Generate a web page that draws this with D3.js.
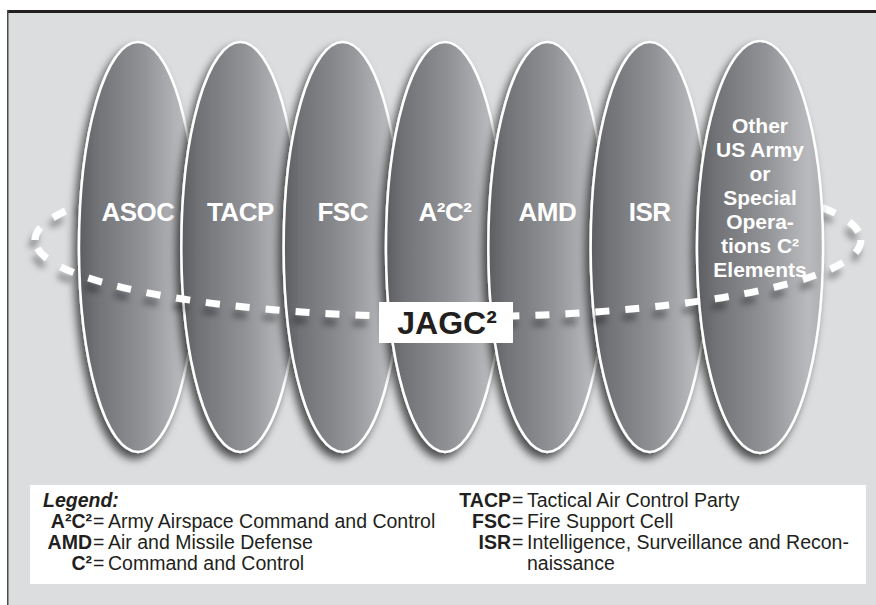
<!DOCTYPE html>
<html>
<head>
<meta charset="utf-8">
<script src="https://cdn.jsdelivr.net/npm/d3@7"></script>
<style>
  body { margin: 0; background: #fff; }
  svg { display: block; font-family: "Liberation Sans", Arial, Helvetica, sans-serif; }
</style>
</head>
<body>
<svg width="876" height="605"></svg>
<script>
// the seven C2 elements, label lines for each
const elementLabels = [
    ["ASOC"],
    ["TACP"],
    ["FSC"],
    ["A²C²"],
    ["AMD"],
    ["ISR"],
    ["Other", "US Army", "or", "Special", "Opera-", "tions C²", "Elements"]
];
const centerLabel = "JAGC²";

// legend rows: [term, definition lines...]
const legendTitle = "Legend:";
const legendLeft = [
    ["A²C²", "Army Airspace Command and Control"],
    ["AMD", "Air and Missile Defense"],
    ["C²", "Command and Control"]
];
const legendRight = [
    ["TACP", "Tactical Air Control Party"],
    ["FSC", "Fire Support Cell"],
    ["ISR", "Intelligence, Surveillance and Recon-", "naissance"]
];

const svg = d3.select("svg");
const defs = svg.append("defs");

const grad = defs.append("linearGradient")
    .attr("id", "ovalGrad")
    .attr("x1", "0%").attr("x2", "100%").attr("y1", "0%").attr("y2", "0%");
[[0, "#5c5d61"], [0.15, "#717276"], [0.55, "#929397"], [0.88, "#b9babd"], [1, "#aeafb2"]]
    .forEach(s => grad.append("stop").attr("offset", s[0]).attr("stop-color", s[1]));

defs.append("filter").attr("id", "ovalShadow")
    .attr("x", "-30%").attr("y", "-10%").attr("width", "160%").attr("height", "125%")
    .append("feDropShadow")
    .attr("dx", -4).attr("dy", 6).attr("stdDeviation", 4)
    .attr("flood-color", "#000").attr("flood-opacity", 0.65);

defs.append("filter").attr("id", "dashShadow")
    .attr("x", "-10%").attr("y", "-30%").attr("width", "120%").attr("height", "160%")
    .append("feDropShadow")
    .attr("dx", -3).attr("dy", 8).attr("stdDeviation", 3)
    .attr("flood-color", "#000").attr("flood-opacity", 0.35);

// frame
svg.append("rect").attr("x", 8).attr("y", 13).attr("width", 868).attr("height", 592).attr("fill", "#dcdddf");
svg.append("rect").attr("x", 7).attr("y", 10).attr("width", 869).attr("height", 3).attr("fill", "#231f20");
svg.append("rect").attr("x", 7).attr("y", 10).attr("width", 1.5).attr("height", 595).attr("fill", "#4a4a4a");

// positions
const x = d3.scalePoint().domain(d3.range(elementLabels.length)).range([138, 752]);
const y = d3.scaleLinear().domain([0, 1]).range([42, 452]);   // oval top..bottom
const cy = (y(0) + y(1)) / 2, ry = (y(1) - y(0)) / 2;

// dashed ring
const ring = { cx: 448, cy: 240, rx: 413, ry: 77 };
const backArc = `M${ring.cx - ring.rx},${ring.cy} A${ring.rx},${ring.ry} 0 0 1 ${ring.cx + ring.rx},${ring.cy}`;
const frontArc = `M${ring.cx + ring.rx},${ring.cy} A${ring.rx},${ring.ry} 0 0 1 ${ring.cx - ring.rx},${ring.cy}`;

function dashed(path) {
    svg.append("path").attr("d", path)
        .attr("fill", "none").attr("stroke", "#fff")
        .attr("stroke-width", 7).attr("stroke-dasharray", "14,16")
        .attr("filter", "url(#dashShadow)");
}

dashed(backArc);

// ovals
const ovals = svg.append("g").selectAll("g")
    .data(elementLabels)
    .join("g")
    .attr("transform", (d, i) => `translate(${x(i) + (d.length > 1 ? 8 : 0)},${cy})`);

ovals.append("ellipse")
    .attr("rx", d => d.length > 1 ? 63 : 59)
    .attr("ry", d => d.length > 1 ? ry + 1 : ry)
    .attr("fill", "url(#ovalGrad)")
    .attr("stroke", "#fff")
    .attr("stroke-width", 2.5)
    .attr("filter", "url(#ovalShadow)");

ovals.each(function(d) {
    const g = d3.select(this);
    const multi = d.length > 1;
    const fs = multi ? 21 : 26;
    const lineH = 24;
    const base = multi ? 133 - cy : 220.5 - cy;
    const t = g.append("text")
        .attr("text-anchor", "middle")
        .attr("fill", "#fff")
        .attr("font-weight", "bold")
        .attr("font-size", fs)
        .attr("letter-spacing", multi ? 0 : -0.5);
    d.forEach((line, k) => {
        t.append("tspan").attr("x", 0).attr("y", base + k * lineH).text(line);
    });
});

dashed(frontArc);

// center label
svg.append("rect").attr("x", 379).attr("y", 302).attr("width", 134).attr("height", 41).attr("fill", "#fff");
svg.append("text")
    .attr("x", 447).attr("y", 334)
    .attr("text-anchor", "middle")
    .attr("font-weight", "bold").attr("font-size", 32)
    .attr("fill", "#231f20")
    .text(centerLabel);

// legend
svg.append("rect").attr("x", 30).attr("y", 485).attr("width", 836).attr("height", 99).attr("fill", "#fff");
const row = d3.scaleLinear().domain([0, 3]).range([507, 570]);
const lg = svg.append("g").attr("font-size", 19.5).attr("fill", "#231f20");

lg.append("text")
    .attr("x", 43).attr("y", row(0))
    .attr("font-weight", "bold").attr("font-style", "italic")
    .text(legendTitle);

function legendColumn(items, termRight, startRow) {
    items.forEach((it, i) => {
        const ry0 = row(startRow + i);
        lg.append("text").attr("x", termRight).attr("y", ry0)
            .attr("text-anchor", "end").attr("font-weight", "bold").text(it[0]);
        lg.append("text").attr("x", termRight + 1).attr("y", ry0).text("=");
        it.slice(1).forEach((line, k) => {
            lg.append("text").attr("x", termRight + 16).attr("y", row(startRow + i + k)).text(line);
        });
    });
}
legendColumn(legendLeft, 92, 1);
legendColumn(legendRight, 511, 0);
</script>
</body>
</html>
